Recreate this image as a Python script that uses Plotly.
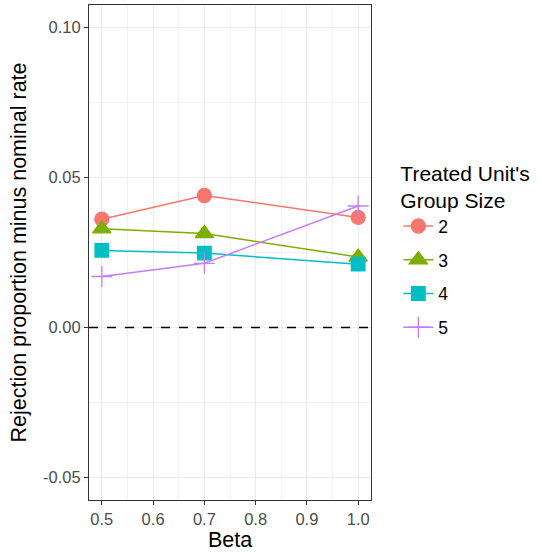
import plotly.graph_objects as go

beta = [0.5, 0.7, 1.0]
group_sizes = ["2", "3", "4", "5"]
vals = {
    "2": [0.0361, 0.0440, 0.0367],
    "3": [0.0329, 0.0313, 0.0235],
    "4": [0.0257, 0.0248, 0.0211],
    "5": [0.0170, 0.0214, 0.0405],
}
colors = {"2": "#F8766D", "3": "#7CAE00", "4": "#00BFC4", "5": "#C77CFF"}
symbols = {"2": "circle", "3": "triangle-up", "4": "square", "5": "cross-thin"}
msize = {"2": 14, "3": 16, "4": 13.5, "5": 15}

x_ticks = [0.5, 0.6, 0.7, 0.8, 0.9, 1.0]
y_ticks = [-0.05, 0.00, 0.05, 0.10]

FONT = "Liberation Sans, Arial, sans-serif"

fig = go.Figure()
for g in group_sizes:
    c = colors[g]
    fig.add_trace(go.Scatter(
        x=beta, y=vals[g], mode="lines+markers", name=g,
        legendgroup=g,
        line=dict(color=c, width=1.5),
        marker=dict(symbol=symbols[g], size=msize[g], color=c,
                    line=dict(color=c, width=1.3)),
    ))

fig.add_hline(y=0, line=dict(color="black", width=1.5, dash="dash"))

axis_common = dict(
    showgrid=True, gridcolor="#EBEBEB", gridwidth=1.1,
    showline=True, linecolor="#333333", linewidth=1.2, mirror=True,
    ticks="outside", ticklen=4, tickcolor="#333333", tickwidth=1.1,
    tickfont=dict(family=FONT, size=16.5, color="#4D4D4D"),
    zeroline=False,
)

fig.update_layout(
    width=540, height=557,
    margin=dict(l=89, r=169, t=5, b=57),
    paper_bgcolor="white", plot_bgcolor="white",
    font=dict(family=FONT, color="black"),
    xaxis=dict(
        range=[0.475, 1.025], tickvals=x_ticks,
        ticktext=[f"{v:.1f}" for v in x_ticks],
        title=dict(text="Beta", font=dict(family=FONT, size=21.5), standoff=2),
        minor=dict(dtick=0.05, tick0=0.5, showgrid=True, gridcolor="#F2F2F2", gridwidth=0.6, ticks=""),
        **axis_common,
    ),
    yaxis=dict(
        range=[-0.0575, 0.1075], tickvals=y_ticks,
        ticktext=[f"{v:.2f}" for v in y_ticks],
        title=dict(text="Rejection proportion minus nominal rate", font=dict(family=FONT, size=21.5), standoff=10),
        minor=dict(dtick=0.025, tick0=0.0, showgrid=True, gridcolor="#F2F2F2", gridwidth=0.6, ticks=""),
        **axis_common,
    ),
    legend=dict(
        title=dict(text="Treated Unit's<br>Group Size", font=dict(family=FONT, size=21)),
        font=dict(family=FONT, size=17.5),
        x=1.097, xanchor="left", y=0.70, yanchor="top",
        tracegroupgap=8, itemwidth=30,
        bgcolor="rgba(0,0,0,0)",
    ),
)

fig.write_html("out.html")
